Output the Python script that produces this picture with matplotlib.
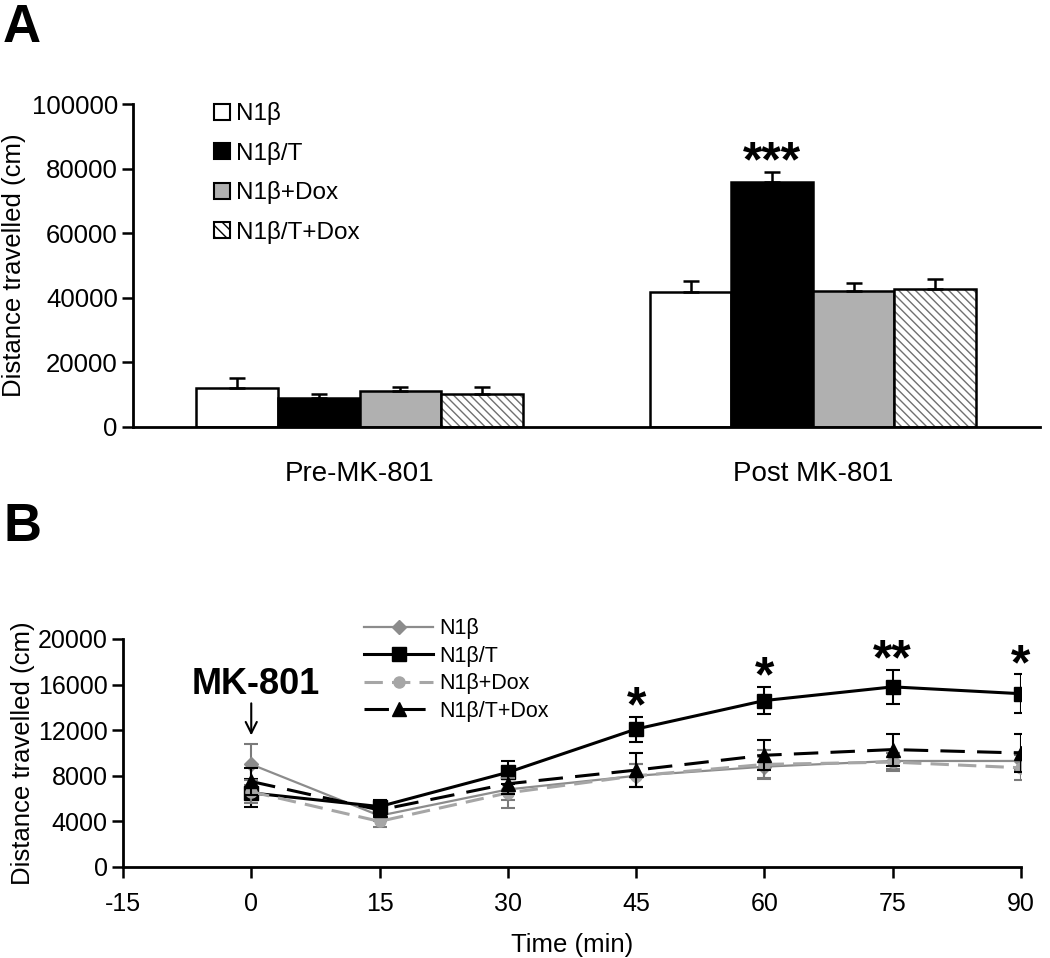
import matplotlib
matplotlib.use("Agg")
import matplotlib.pyplot as plt
from matplotlib.patches import Patch
import numpy as np

plt.rcParams.update({
    'font.family': ['Liberation Sans', 'DejaVu Sans'],
    'font.size': 16,
    'axes.linewidth': 2,
    'axes.unicode_minus': False,
})

# ── Panel A data ─────
groups = ['Pre-MK-801', 'Post MK-801']
bar_labels = ['N1β', 'N1β/T', 'N1β+Dox', 'N1β/T+Dox']
bar_means = [
    [12000, 41800],   # N1β
    [9000, 75800],    # N1β/T
    [11100, 42100],   # N1β+Dox
    [10200, 42700],   # N1β/T+Dox
]
bar_sems = [
    [3200, 3400],
    [1200, 3100],
    [1300, 2500],
    [2200, 3100],
]
bar_stars = ['', '***']   # above N1β/T

# ── Panel B data ─────
times = [0, 15, 30, 45, 60, 75, 90]
line_labels = ['N1β', 'N1β/T', 'N1β+Dox', 'N1β/T+Dox']
n1b = [9000, 4500, 6800, 8000, 8800, 9300, 9300]
n1b_err = [1800, 500, 900, 1000, 1000, 700, 800]
n1bt = [6500, 5300, 8300, 12100, 14600, 15800, 15200]
n1bt_err = [1200, 600, 1000, 1100, 1200, 1500, 1700]
n1bdox = [6600, 4000, 6500, 8000, 9000, 9200, 8700]
n1bdox_err = [1000, 500, 1300, 1000, 1300, 800, 1100]
n1btdox = [7500, 5000, 7300, 8500, 9800, 10300, 10000]
n1btdox_err = [1200, 500, 900, 1500, 1300, 1400, 1700]
time_stars = ['', '', '', '*', '*', '**', '*']

fig = plt.figure(figsize=(10.5, 9.58), dpi=100)

# ── Panel A ─────
axA = fig.add_axes([0.1267, 0.5543, 0.8633, 0.3371])
x = np.arange(len(groups))
w = 0.18
offsets = (np.arange(4) - 1.5) * w
faces = ['white', 'black', '#b0b0b0', 'white']

for i in range(4):
    xs = x + offsets[i]
    if i == 3:
        axA.bar(xs, bar_means[i], w, color='white', edgecolor='#707070',
                hatch='\\\\\\\\', linewidth=0, zorder=2)
        axA.bar(xs, bar_means[i], w, fill=False, edgecolor='black', linewidth=1.8, zorder=3)
    else:
        axA.bar(xs, bar_means[i], w, color=faces[i], edgecolor='black', linewidth=1.8, zorder=2)
    axA.errorbar(xs, bar_means[i], yerr=[np.zeros(2), bar_sems[i]], fmt='none',
                 ecolor='black', elinewidth=1.8, capsize=6, capthick=1.8, zorder=4)

for j, s in enumerate(bar_stars):
    if s:
        axA.text(x[j] + offsets[1], bar_means[1][j] + bar_sems[1][j] - 4500, s,
                 ha='center', va='bottom', fontsize=36, fontweight='bold')

axA.set_xlim(-0.5, 1.5)
axA.set_ylim(0, 100000)
axA.set_yticks(np.arange(0, 100001, 20000))
axA.set_xticks([])
for j, g in enumerate(groups):
    axA.text(x[j], -14500, g, ha='center', va='center', fontsize=20)
axA.spines['top'].set_visible(False)
axA.spines['right'].set_visible(False)
axA.tick_params(axis='y', direction='out', length=8, width=1.8, labelsize=18.5, pad=3)
axA.set_ylabel('Distance travelled (cm)', fontsize=18.5, labelpad=4)

# legend for A
hA = [Patch(facecolor='white', edgecolor='black', linewidth=1.5),
      Patch(facecolor='black', edgecolor='black', linewidth=1.5),
      Patch(facecolor='#b0b0b0', edgecolor='black', linewidth=1.5),
      Patch(facecolor='white', edgecolor='black', hatch='\\\\\\', linewidth=1.5)]
axA.legend(hA, bar_labels, loc='upper left', bbox_to_anchor=(0.065, 1.073), frameon=False,
           fontsize=17.5, handlelength=0.65, handleheight=0.65, handletextpad=0.25,
           labelspacing=0.68)

fig.text(0.003, 0.997, 'A', fontsize=38, fontweight='bold', ha='left', va='top')
fig.text(0.003, 0.476, 'B', fontsize=38, fontweight='bold', ha='left', va='top')

# ── Panel B ─────
axB = fig.add_axes([0.1171, 0.095, 0.8553, 0.238])
series = [
    (n1b, n1b_err, dict(color='#8c8c8c', marker='D', markersize=7, linestyle='-', linewidth=1.6)),
    (n1bt, n1bt_err, dict(color='black', marker='s', markersize=10, linestyle='-', linewidth=2.2)),
    (n1bdox, n1bdox_err, dict(color='#a6a6a6', marker='o', markersize=8, linestyle=(0, (6, 3)), linewidth=2.2)),
    (n1btdox, n1btdox_err, dict(color='black', marker='^', markersize=10, linestyle=(0, (8, 4)), linewidth=2.2)),
]
for (vals, errs, st), lab in zip(series, line_labels):
    ecol = 'black' if st['color'] == 'black' else '#7a7a7a'
    axB.errorbar(times, vals, yerr=errs, fmt='none', capsize=5, elinewidth=1.5,
                 capthick=1.5, ecolor=ecol)
    axB.plot(times, vals, label=lab, **st)

for t, v, e, s in zip(times, n1bt, n1bt_err, time_stars):
    if s:
        axB.text(t, v + e - 1300, s, ha='center', va='bottom', fontsize=36, fontweight='bold')

axB.set_xlim(-15, 90)
axB.set_ylim(0, 20000)
axB.set_xticks(np.arange(-15, 91, 15))
axB.set_yticks(np.arange(0, 20001, 4000))
axB.spines['top'].set_visible(False)
axB.spines['right'].set_visible(False)
axB.tick_params(direction='out', length=8, width=1.8, labelsize=18)
axB.tick_params(axis='y', pad=3)
axB.tick_params(axis='x', pad=10)
axB.set_xlabel('Time (min)', fontsize=18.5, labelpad=12)
axB.set_ylabel('Distance travelled (cm)', fontsize=18.5, labelpad=2)

axB.annotate('', xy=(0, 11300), xytext=(0, 14600),
             arrowprops=dict(arrowstyle='->', color='black', lw=1.5, mutation_scale=20))
axB.text(0.5, 16000, 'MK-801', ha='center', va='center', fontsize=26, fontweight='bold')

axB.legend(loc='upper left', bbox_to_anchor=(0.247, 1.175), frameon=False, fontsize=15.5,
           handlelength=3.2, handletextpad=0.3, labelspacing=0.3)

plt.savefig('out.png', dpi=100)
